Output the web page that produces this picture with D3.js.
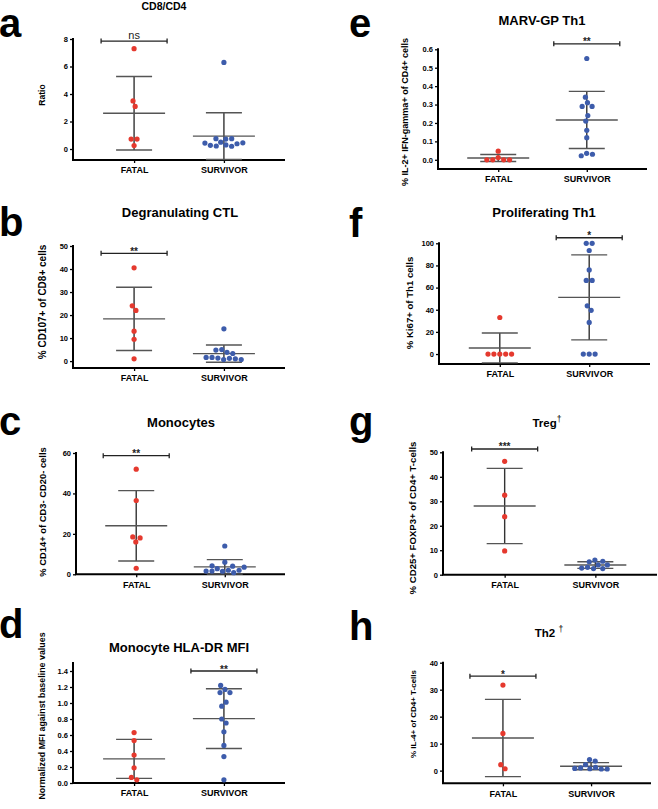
<!DOCTYPE html>
<html><head><meta charset="utf-8">
<script src="https://cdn.jsdelivr.net/npm/d3@7"></script>
<style>
html,body{margin:0;padding:0;background:#fff;}
svg{display:block;font-family:"Liberation Sans",Arial,sans-serif;}
</style></head>
<body>
<svg id="chart" width="658" height="809"></svg>
<script>
// ---------------- data ----------------
const panelIds = ["a","b","c","d","e","f","g","h"];
const titles = ["CD8/CD4","Degranulating CTL","Monocytes","Monocyte HLA-DR MFI","MARV-GP Th1","Proliferating Th1","Treg","Th2 "];
const titleMarks = ["","","","","","","†","†"];
const yLabels = ["Ratio","% CD107+ of CD8+ cells","% CD14+ of CD3- CD20- cells","Normalized MFI against baseline values",
  "% IL-2+ IFN-gamma+ of CD4+ cells","% Ki67+ of Th1 cells","% CD25+ FOXP3+ of CD4+ T-cells","% IL-4+ of CD4+ T-cells"];
const groups = ["FATAL","SURVIVOR"];
const fatalValues = [
  [7.3,3.5,3.1,0.72,0.72,0.25],
  [40.5,24,22,13,9.5,1],
  [52,36.5,18.5,18,16,3],
  [0.63,0.53,0.35,0.19,0.07,0.04],
  [0.047,0.012,0,0,0,0],
  [33,0,0,0,0,0],
  [46.3,32.5,23.7,9.7],
  [31.7,13.8,2.2,0.7]
];
const survivorValues = [
  [6.3,0.75,0.72,0.75,0.45,0.43,0.27,0.2,0.22,0.3,0.38,0.5],
  [14,5,4.8,3.8,3.3,1.6,1.3,1,0.7,0.7,1.2,1.6],
  [14,6,4.2,4,3.5,2.8,2,1.6,1.5,1.6,2,0.8],
  [1.22,1.17,1.13,1.13,1.01,0.96,0.80,0.75,0.64,0.47,0.33,0.04],
  [0.55,0.34,0.31,0.29,0.29,0.24,0.21,0.16,0.12,0.035,0.03,0.022],
  [100,100,93.5,76,66.5,66.5,43.5,39.5,28.5,0,0,0],
  [6,5.5,5.3,4,4,3,2.7,2.5,2.5],
  [4.1,3.5,2.2,1,0.8,0.6,0.6,0.7,1.2]
];
const yMin = [-0.8,-3,0,0,-0.05,-9,0,-4.7];
const yMax = [8,50,60,1.5,0.6,100,50,40];
const yTicks = [
  [0,2,4,6,8],
  [0,10,20,30,40,50],
  [0,20,40,60],
  [0,0.2,0.4,0.6,0.8,1.0,1.2,1.4],
  [0,0.1,0.2,0.3,0.4,0.5,0.6],
  [0,20,40,60,80,100],
  [0,10,20,30,40,50],
  [0,10,20,30,40]
];
const tickFormats = ["d","d","d",".1f",".1f","d","d","d"];
const sigLabels = ["ns","**","**","**","**","*","***","*"];
const sigGroup = ["FATAL","FATAL","FATAL","SURVIVOR","SURVIVOR","SURVIVOR","FATAL","FATAL"];
const sigValue = [7.85,46.8,58.7,1.4,0.63,105,51.35,35];

// ---------------- layout ----------------
const L = {
  axisX:  [73,73,76,73,438,439,443,443],
  xEnd:   [285,285,285,285,647,650,657,651],
  yBot:   [160,368,574.3,783,169,364,574.7,783.3],
  yTop:   [39,246,453,663,49.3,243.3,452.3,662.7],
  titleX: [164,180,181,179,542,544,547,549],
  titleY: [10,217,427,652,25,217,427,637],
  titleSize: [10.5,13,13,13,13,13,11.5,11.5],
  letterX:[-1,-1,-1,-1,349,349,349,349],
  letterY:[37,236,435,638,37,237,435,640],
  ylabX:  [42,42,42,42,405,409,412,413],
  ylabY:  [95,302,512,716,112,303,518,714],
  ylabSize:[8.5,10,9.4,8.9,9,9.6,9.6,8]
};
const colors = {FATAL:"#e5392e", SURVIVOR:"#3d5cab"};

const svg = d3.select("#chart");

panelIds.forEach((id,i)=>{
  const g = svg.append("g");
  const x = d3.scalePoint().domain(groups).range([L.axisX[i], L.xEnd[i]]).padding(0.68);
  const y = d3.scaleLinear().domain([yMin[i], yMax[i]]).range([L.yBot[i], L.yTop[i]]);

  // panel letter
  g.append("text").attr("x",L.letterX[i]).attr("y",L.letterY[i])
    .attr("font-size",40).attr("font-weight","bold").attr("fill","#000").text(id);

  // title
  const t = g.append("text").attr("x",L.titleX[i]).attr("y",L.titleY[i]).attr("fill","#000")
    .attr("text-anchor","middle").attr("font-size",L.titleSize[i]).attr("font-weight","bold").text(titles[i]);
  if (titleMarks[i]) t.append("tspan").attr("dy",-5).attr("fill","#000").attr("font-size",L.titleSize[i]*0.75).attr("font-weight","normal").text(titleMarks[i]);

  // y axis
  const yAxis = d3.axisLeft(y).tickValues(yTicks[i]).tickSize(3).tickPadding(2).tickFormat(d3.format(tickFormats[i]));
  const ya = g.append("g").attr("transform",`translate(${L.axisX[i]},0)`).call(yAxis);
  ya.select(".domain").remove();
  ya.selectAll(".tick line").attr("stroke","#000").attr("stroke-width",1.3);
  ya.selectAll(".tick text").attr("font-size",7.5).attr("font-weight","bold").attr("fill","#000")
    .attr("font-family","Liberation Sans, Arial, sans-serif");
  g.append("line").attr("x1",L.axisX[i]).attr("x2",L.axisX[i]).attr("y1",y.range()[1]-1).attr("y2",y.range()[0])
    .attr("stroke","#000").attr("stroke-width",2);

  // x axis
  const xAxis = d3.axisBottom(x).tickSize(3).tickPadding(4);
  const xa = g.append("g").attr("transform",`translate(0,${L.yBot[i]})`).call(xAxis);
  xa.select(".domain").remove();
  xa.selectAll(".tick line").attr("stroke","#000").attr("stroke-width",1.3);
  xa.selectAll(".tick text").attr("font-size",9).attr("font-weight","bold").attr("fill","#000")
    .attr("font-family","Liberation Sans, Arial, sans-serif");
  g.append("line").attr("x1",L.axisX[i]-1).attr("x2",L.xEnd[i]).attr("y1",L.yBot[i]).attr("y2",L.yBot[i])
    .attr("stroke","#000").attr("stroke-width",2);

  // y label
  g.append("text").attr("transform",`translate(${L.ylabX[i]},${L.ylabY[i]}) rotate(-90)`)
    .attr("text-anchor","middle").attr("dominant-baseline","central").attr("fill","#000")
    .attr("font-size",L.ylabSize[i]).attr("font-weight","bold").text(yLabels[i]);

  // groups
  [fatalValues[i], survivorValues[i]].forEach((vals,gi)=>{
    const grp = groups[gi];
    const cx = x(grp);
    const m = d3.mean(vals), sd = d3.deviation(vals);
    const up = y(m+sd), lo = y(m-sd), my = y(m);
    const eg = g.append("g").attr("stroke","#444").attr("stroke-width",1.4);
    eg.append("line").attr("x1",cx).attr("x2",cx).attr("y1",up).attr("y2",lo).attr("stroke","#333");
    eg.append("line").attr("x1",cx-31).attr("x2",cx+31).attr("y1",my).attr("y2",my).attr("stroke","#555");
    eg.append("line").attr("x1",cx-18).attr("x2",cx+18).attr("y1",up).attr("y2",up).attr("stroke","#555");
    eg.append("line").attr("x1",cx-18).attr("x2",cx+18).attr("y1",lo).attr("y2",lo).attr("stroke","#555");

    // beeswarm
    const nodes = vals.map(v=>({v, x:cx, fy:y(v), y:y(v)}));
    const sim = d3.forceSimulation(nodes)
      .force("x", d3.forceX(cx).strength(0.06))
      .force("collide", d3.forceCollide(2.95).iterations(3))
      .stop();
    for (let k=0;k<300;k++) sim.tick();
    g.append("g").selectAll("circle").data(nodes).join("circle")
      .attr("cx",d=>d.x).attr("cy",d=>y(d.v)).attr("r",2.6).attr("fill",colors[grp]);
  });

  // significance bar
  const sc = x(sigGroup[i]), sy = y(sigValue[i]);
  const sg = g.append("g").attr("stroke","#222").attr("stroke-width",1.3);
  sg.append("line").attr("x1",sc-33).attr("x2",sc+33).attr("y1",sy).attr("y2",sy);
  sg.append("line").attr("x1",sc-33).attr("x2",sc-33).attr("y1",sy-2.5).attr("y2",sy+2.5);
  sg.append("line").attr("x1",sc+33).attr("x2",sc+33).attr("y1",sy-2.5).attr("y2",sy+2.5);
  const isNs = sigLabels[i]==="ns";
  g.append("text").attr("x",sc).attr("y",isNs? sy-2 : sy+1.5).attr("text-anchor","middle")
    .attr("font-size",isNs?11:10).attr("font-weight",isNs?"normal":"bold").attr("fill","#222").text(sigLabels[i]);
});
</script>
</body></html>
